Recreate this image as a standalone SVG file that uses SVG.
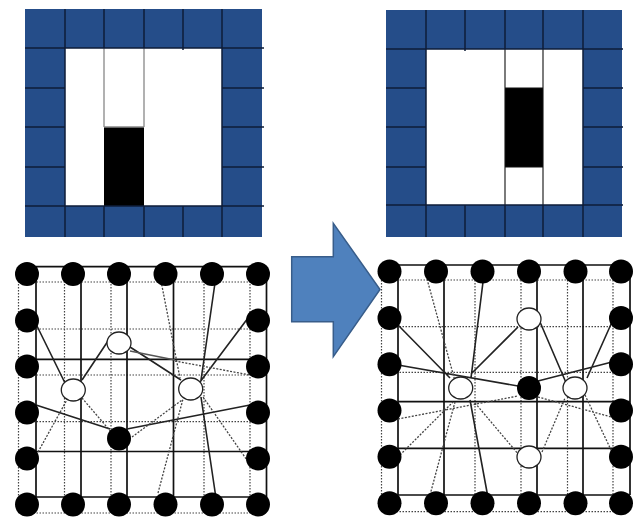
<svg xmlns="http://www.w3.org/2000/svg" width="637" height="518" viewBox="0 0 637 518">
<style>
.blue{fill:#254d89}
.gl{stroke:#0e1c38;stroke-width:1.5;fill:none}
.in{stroke:#888;stroke-width:1.3;fill:none}
.inb{stroke:#111;stroke-width:1.1;fill:none}
.sg{stroke:#111;stroke-width:1.7;fill:none}
.dg{stroke:#444;stroke-width:1.2;stroke-dasharray:1.5 1.5;fill:none}
.cs{stroke:#222;stroke-width:1.6;fill:none}
.cg{stroke:#555;stroke-width:1.3;fill:none}
.cd{stroke:#444;stroke-width:1.3;stroke-dasharray:2 1.5;fill:none}
.bn{fill:#000}
.wn{fill:#fff;stroke:#222;stroke-width:1.3}
</style>
<rect width="637" height="518" fill="#fff"/>

<!-- Top-left grid -->
<g id="grid-before">
  <rect class="blue" x="25" y="9" width="237" height="228"/>
  <rect fill="#fff" x="65" y="48" width="157" height="158"/>
  <rect fill="#000" x="104" y="127" width="40" height="79"/>
  <path class="in" d="M104 48V127M144 48V127M104 127H144"/>
  <path class="gl" d="M25 48H264M25 206H264M25 88H65M222 88H264M25 127H65M222 127H264M25 167H65M222 167H264M65 9V237M222 9V237M104 9V48M144 9V48M183 9V50M104 206V237M144 206V237M183 206V237"/>
</g>

<!-- Top-right grid -->
<g id="grid-after">
  <rect class="blue" x="386" y="10" width="236" height="227"/>
  <rect fill="#fff" x="426" y="49" width="157" height="156"/>
  <rect fill="#000" x="505" y="88" width="38" height="79"/>
  <path class="inb" d="M505 49V205M543 49V205M505 88H543M505 167H543"/>
  <path class="gl" d="M386 49H623M386 205H623M386 88H426M583 88H623M386 127H426M583 127H623M386 167H426M583 167H623M426 10V237M583 10V237M465 10V51M505 10V49M543 10V49M465 205V237M505 205V237M543 205V237"/>
</g>

<!-- Arrow -->
<g id="arrow">
  <polygon points="291.7,256.7 333.3,256.7 333.3,223.3 380,289.5 333.3,356.7 333.3,321.7 291.7,321.7" fill="#4f81bd" stroke="#385d8a" stroke-width="1.5"/>
</g>

<!-- Bottom-left graph -->
<g id="graph-before">
  <g id="bl-lattice">
    <path class="dg" d="M18.5 266V513M64.5 266V513M111 266V513M204 266V513M250 266V513M18.5 282H266M18.5 329H266M18.5 375H266M18.5 421.7H266M18.5 513H266"/>
    <path class="sg" d="M36 266.7V497M81 266.7V497M127 266.7V497M173.5 266.7V497M266.5 266.7V497M36 266.7H266.5M36 359.3H266.5M36 451.5H266.5M36 497H266.5"/>
  </g>
  <g id="bl-connectors">
    <path class="cs" d="M36 324L65 383M82 380L110 338M130 347L181 380M36 405L110 429M127 429L250 405M216 276L201 380M201 397L217 505M251 314L200 382"/>
    <path class="cg" d="M130 351L175 360"/>
    <path class="cd" d="M175 361L250 375M38 452L68 398M82 398L112 433M132 437L182 400M161 281L180 378M158 493L183 399M203 397L249 463"/>
  </g>
  <g id="bl-T1"><circle class="bn" cx="27" cy="274" r="12"/></g>
  <g id="bl-T2"><circle class="bn" cx="73" cy="274" r="12"/></g>
  <g id="bl-T3"><circle class="bn" cx="119" cy="274" r="12"/></g>
  <g id="bl-T4"><circle class="bn" cx="165.5" cy="274" r="12"/></g>
  <g id="bl-T5"><circle class="bn" cx="212" cy="274" r="12"/></g>
  <g id="bl-T6"><circle class="bn" cx="258" cy="274" r="12"/></g>
  <g id="bl-L2"><circle class="bn" cx="27" cy="320.5" r="12"/></g>
  <g id="bl-L3"><circle class="bn" cx="27" cy="366.5" r="12"/></g>
  <g id="bl-L4"><circle class="bn" cx="27" cy="412.5" r="12"/></g>
  <g id="bl-L5"><circle class="bn" cx="27" cy="458.5" r="12"/></g>
  <g id="bl-R2"><circle class="bn" cx="258" cy="320.5" r="12"/></g>
  <g id="bl-R3"><circle class="bn" cx="258" cy="366.5" r="12"/></g>
  <g id="bl-R4"><circle class="bn" cx="258" cy="412.5" r="12"/></g>
  <g id="bl-R5"><circle class="bn" cx="258" cy="458.5" r="12"/></g>
  <g id="bl-B1"><circle class="bn" cx="27" cy="504.5" r="12"/></g>
  <g id="bl-B2"><circle class="bn" cx="73" cy="504.5" r="12"/></g>
  <g id="bl-B3"><circle class="bn" cx="119" cy="504.5" r="12"/></g>
  <g id="bl-B4"><circle class="bn" cx="165.5" cy="504.5" r="12"/></g>
  <g id="bl-B5"><circle class="bn" cx="212" cy="504.5" r="12"/></g>
  <g id="bl-B6"><circle class="bn" cx="258" cy="504.5" r="12"/></g>
  <g id="bl-A"><ellipse class="wn" cx="73.3" cy="390" rx="12" ry="11"/></g>
  <g id="bl-B"><ellipse class="wn" cx="119" cy="343" rx="12" ry="11"/></g>
  <g id="bl-C"><ellipse class="wn" cx="190.7" cy="389" rx="12" ry="11"/></g>
  <g id="bl-D"><circle class="bn" cx="119" cy="438.5" r="12"/></g>
</g>

<!-- Bottom-right graph -->
<g id="graph-after">
  <g id="br-lattice">
    <path class="dg" d="M381.5 265V512M475 265V512M521 265V512M567.5 265V512M613 265V512M381.5 280H630M381.5 326.7H630M381.5 372.3H630M381.5 511.7H630"/>
    <path class="sg" d="M398 265V495M444 265V495M537 265V495M583 265V495M630 265V495M398 265H630M398 401.7H630M398 448.3H630M398 495H630"/>
  </g>
  <g id="br-connectors">
    <path class="cs" d="M398 325L450 378M398 365L518 386M538 381L612 362M484 274L471 378M470 400L489 503M518 327L471 374M540 322L567 385M612 322L587 378"/>
    <path class="cd" d="M427 279L455 381M400 455L453 402M430 495L455 402M475 403L519 455M542 452L565 398M585 395L612 452M398 419L518 396M538 397L615 418"/>
  </g>
  <g id="br-T1"><circle class="bn" cx="389.5" cy="271.5" r="12"/></g>
  <g id="br-T2"><circle class="bn" cx="436" cy="271.5" r="12"/></g>
  <g id="br-T3"><circle class="bn" cx="482.5" cy="271.5" r="12"/></g>
  <g id="br-T4"><circle class="bn" cx="529" cy="271.5" r="12"/></g>
  <g id="br-T5"><circle class="bn" cx="575.5" cy="271.5" r="12"/></g>
  <g id="br-T6"><circle class="bn" cx="621" cy="271.5" r="12"/></g>
  <g id="br-L2"><circle class="bn" cx="389.5" cy="318" r="12"/></g>
  <g id="br-L3"><circle class="bn" cx="389.5" cy="364.3" r="12"/></g>
  <g id="br-L4"><circle class="bn" cx="389.5" cy="410.5" r="12"/></g>
  <g id="br-L5"><circle class="bn" cx="389.5" cy="456.7" r="12"/></g>
  <g id="br-R2"><circle class="bn" cx="621" cy="318" r="12"/></g>
  <g id="br-R3"><circle class="bn" cx="621" cy="364.3" r="12"/></g>
  <g id="br-R4"><circle class="bn" cx="621" cy="410.5" r="12"/></g>
  <g id="br-R5"><circle class="bn" cx="621" cy="456.7" r="12"/></g>
  <g id="br-B1"><circle class="bn" cx="389.5" cy="503.3" r="12"/></g>
  <g id="br-B2"><circle class="bn" cx="436" cy="503.3" r="12"/></g>
  <g id="br-B3"><circle class="bn" cx="482.5" cy="503.3" r="12"/></g>
  <g id="br-B4"><circle class="bn" cx="529" cy="503.3" r="12"/></g>
  <g id="br-B5"><circle class="bn" cx="575.5" cy="503.3" r="12"/></g>
  <g id="br-B6"><circle class="bn" cx="621" cy="503.3" r="12"/></g>
  <g id="br-E"><ellipse class="wn" cx="460.7" cy="388" rx="12" ry="11"/></g>
  <g id="br-F"><ellipse class="wn" cx="529" cy="319" rx="12" ry="11"/></g>
  <g id="br-G"><circle class="bn" cx="529" cy="388" r="12"/></g>
  <g id="br-H"><ellipse class="wn" cx="575" cy="388" rx="12" ry="11"/></g>
  <g id="br-I"><ellipse class="wn" cx="529" cy="457" rx="12" ry="11"/></g>
</g>
</svg>
